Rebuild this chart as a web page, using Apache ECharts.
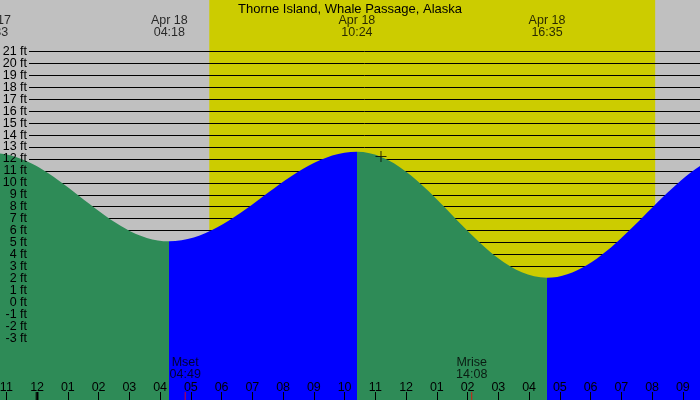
<!DOCTYPE html>
<html><head><meta charset="utf-8">
<script src="https://cdn.jsdelivr.net/npm/echarts@6/dist/echarts.min.js"></script>
<style>html,body{margin:0;padding:0;background:#c0c0c0}#c{width:700px;height:400px}</style>
</head><body><div id="c"></div>
<script>
// ---------------- data ----------------
const titleText = 'Thorne Island, Whale Passage, Alaska';
// tide extremes (first and last are just outside the visible window)
const tideDay   = ['Apr 17', 'Apr 17', 'Apr 18', 'Apr 18', 'Apr 18', 'Apr 18', 'Apr 19'];
const tideClock = ['16:20', '22:33', '04:18', '10:24', '16:35', '23:00', '05:20'];
const tideFt    = [3.0, 12.5, 5.1, 12.6, 2.05, 12.7, 3.5];
// daylight
const sunRiseClock = '05:36';
const sunSetClock = '20:06';
// moon events
const moonNames = ['Mset', 'Mrise'];
const moonClock = ['04:49', '14:08'];
// current-time marker
const nowClock = '11:11';
const nowFt = 12.2;
// axes
const ftMin = -3, ftMax = 21;
const hourMin = -2, hourMax = 22;

// ---------------- helpers ----------------
const dayOffset = { 'Apr 17': -1, 'Apr 18': 0, 'Apr 19': 1 };
function toHours(day, clock) {
  const p = clock.split(':');
  return dayOffset[day] * 24 + (+p[0]) + (+p[1]) / 60;
}
const tideH = tideClock.map((c, i) => toHours(tideDay[i], c));
const tidePts = tideH.map((h, i) => [h, tideFt[i]]);

const GREEN = '#2e8b57', BLUE = '#0000ff';
const pieces = [];
for (let i = 0; i < tideH.length - 1; i++) {
  pieces.push({ gte: tideH[i], lt: tideH[i + 1], color: tideFt[i + 1] > tideFt[i] ? BLUE : GREEN });
}

// ---------------- layout ----------------
const W = 700, H = 400;
const pxPerHour = 30.75, midnightX = 37.1;
const ftTopY = 51.5, pxPerFt = 11.94;
const gridLeft = midnightX + pxPerHour * hourMin;
const gridRight = W - (midnightX + pxPerHour * hourMax);
const yMax = ftMax + ftTopY / pxPerFt;
const yMin = ftMax - (H - ftTopY) / pxPerFt;
const linesBottom = H - (ftTopY + (ftMax - ftMin) * pxPerFt);
const FONT = 'Liberation Sans, Arial, sans-serif';
const FS = 12.5;

function hourLabel(v) {
  let h = ((v % 12) + 12) % 12;
  if (h === 0) h = 12;
  return (h < 10 ? '0' : '') + h;
}
function ftLabel(v) {
  return (v < ftMin || v > ftMax) ? '' : v + ' ft';
}

const chart = echarts.init(document.getElementById('c'), null, { renderer: 'canvas' });
chart.setOption({
  animation: false,
  backgroundColor: '#c0c0c0',
  textStyle: { fontFamily: FONT },
  title: {
    text: titleText, left: 'center', top: 2.5, padding: 0,
    textStyle: { fontSize: 13, fontWeight: 'normal', color: '#000', fontFamily: FONT }
  },
  grid: [
    { left: gridLeft, right: gridRight, top: 0, bottom: 0, containLabel: false, outerBoundsMode: 'none' },
    { left: 29, right: 0, top: ftTopY, bottom: linesBottom, containLabel: false, outerBoundsMode: 'none' },
    { left: 29, right: 0, top: ftTopY - pxPerFt, bottom: linesBottom - pxPerFt, containLabel: false, outerBoundsMode: 'none' }
  ],
  xAxis: [
    {
      gridIndex: 0, type: 'value', min: hourMin, max: hourMax, interval: 1, position: 'bottom', z: 3,
      axisLine: { show: false, onZero: false },
      axisTick: { show: true, inside: true, length: 8, lineStyle: { color: '#000', width: 1 } },
      axisLabel: { show: true, inside: true, margin: 6, color: '#000', fontSize: FS, fontFamily: FONT,
        formatter: hourLabel, hideOverlap: false },
      splitLine: { show: false }
    },
    { gridIndex: 1, type: 'value', min: 0, max: 1, show: false },
    { gridIndex: 2, type: 'value', min: 0, max: 1, show: false }
  ],
  yAxis: [
    { gridIndex: 0, type: 'value', min: yMin, max: yMax, show: false, splitLine: { show: false } },
    {
      gridIndex: 1, type: 'value', min: ftMin, max: ftMax, interval: 1, position: 'left', z: 1.5,
      axisLine: { show: false, onZero: false }, axisTick: { show: false }, axisLabel: { show: false },
      splitLine: { show: true, lineStyle: { color: '#000', width: 1 } }
    },
    {
      gridIndex: 2, type: 'value', min: ftMin - 1, max: ftMax + 1, interval: 1, position: 'left', z: 3,
      axisLine: { show: false, onZero: false }, axisTick: { show: false }, splitLine: { show: false },
      axisLabel: { show: true, margin: 2, color: '#000', fontSize: FS, fontFamily: FONT,
        formatter: ftLabel, hideOverlap: false, showMinLabel: false, showMaxLabel: false }
    }
  ],
  visualMap: {
    type: 'piecewise', show: false, dimension: 0, seriesIndex: 0,
    pieces: pieces, outOfRange: { color: GREEN }
  },
  series: [
    {
      name: 'tide', type: 'line', xAxisIndex: 0, yAxisIndex: 0, z: 2, silent: true,
      data: tidePts, smooth: 0.36, smoothMonotone: 'x', symbol: 'none', showSymbol: false,
      lineStyle: { width: 0 }, areaStyle: { opacity: 1, origin: 'start' },
      markArea: {
        silent: true, label: { show: false }, itemStyle: { color: '#cccc00' },
        data: [[{ xAxis: toHours('Apr 18', sunRiseClock) }, { xAxis: toHours('Apr 18', sunSetClock) }]]
      }
    },
    {
      name: 'extremes', type: 'scatter', xAxisIndex: 0, yAxisIndex: 0, z: 4, silent: true, clip: false,
      symbolSize: 1, itemStyle: { color: 'rgba(0,0,0,0)' },
      label: { show: true, position: 'bottom', distance: 14.5, color: '#000', fontSize: FS, fontFamily: FONT,
        lineHeight: 12, align: 'center' },
      data: tideH.map((h, i) => ({ value: [h, yMax], label: { formatter: tideDay[i] + '\n' + tideClock[i] } }))
    },
    {
      name: 'moon', type: 'scatter', xAxisIndex: 0, yAxisIndex: 0, z: 4, silent: true, clip: false,
      symbol: 'rect', symbolSize: [1, 16], itemStyle: { color: '#ff0000' },
      label: { show: true, position: 'top', distance: 11, color: '#000', fontSize: FS, fontFamily: FONT,
        lineHeight: 12, align: 'center' },
      data: moonClock.map((c, i) => ({ value: [toHours('Apr 18', c), yMin], label: { formatter: moonNames[i] + '\n' + c } }))
    },
    {
      name: 'midnight', type: 'scatter', xAxisIndex: 0, yAxisIndex: 0, z: 4, silent: true, clip: false,
      symbol: 'rect', symbolSize: [3, 16], itemStyle: { color: '#000' },
      data: [[toHours('Apr 18', '00:00'), yMin]]
    },
    {
      name: 'now', type: 'scatter', xAxisIndex: 0, yAxisIndex: 0, z: 4, silent: true,
      symbol: 'path://M5,0h1v11h-1z M0,5h11v1h-11z', symbolSize: 11, itemStyle: { color: '#000' },
      data: [[toHours('Apr 18', nowClock), nowFt]]
    }
  ]
});
</script>
</body></html>
